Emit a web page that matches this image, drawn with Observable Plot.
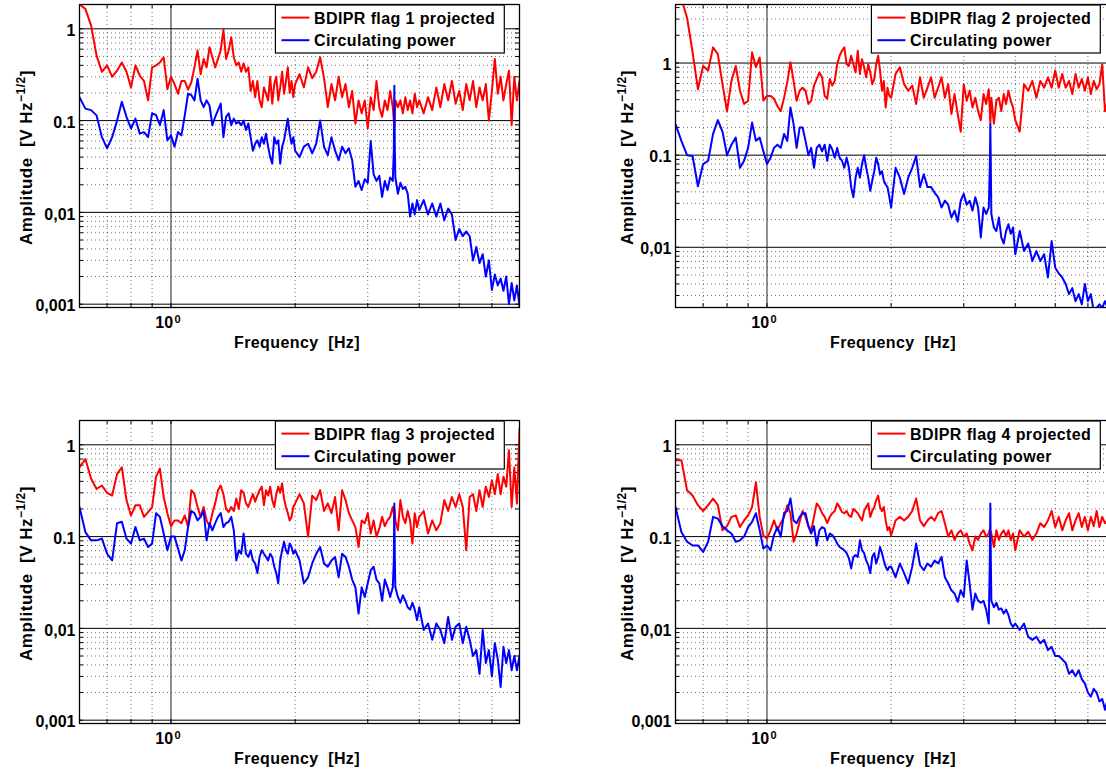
<!DOCTYPE html>
<html><head><meta charset="utf-8">
<script src="https://cdn.jsdelivr.net/npm/d3@7"></script>
<script src="https://cdn.jsdelivr.net/npm/@observablehq/plot@0.6"></script>
<style>
html,body{margin:0;padding:0;background:#fff;overflow:hidden;width:1106px;height:775px;}
#root{position:relative;width:1106px;height:775px;overflow:hidden;background:#fff;}
.panel{position:absolute;}
</style></head><body><div id="root"></div>
<script>
// Frequency bins [Hz]
const freq = [
0.60,0.62,0.64,0.66,0.68,0.70,0.72,0.74,0.76,0.78,
0.80,0.82,0.84,0.86,0.88,0.90,0.92,0.94,0.96,0.98,
1.00,1.02,1.04,1.06,1.08,1.10,1.12,1.14,1.16,1.18,
1.20,1.22,1.24,1.26,1.28,1.30,1.32,1.34,1.36,1.38,
1.40,1.42,1.44,1.46,1.48,1.50,1.52,1.54,1.56,1.58,
1.60,1.62,1.64,1.66,1.68,1.70,1.72,1.74,1.76,1.78,
1.80,1.82,1.84,1.86,1.88,1.90,1.92,1.94,1.96,1.98,
2.00,2.05,2.10,2.15,2.20,2.25,2.30,2.35,2.40,2.45,
2.50,2.55,2.60,2.65,2.70,2.75,2.80,2.85,2.90,2.95,
3.00,3.05,3.10,3.15,3.20,3.25,3.30,3.35,3.40,3.45,
3.47,3.48,3.49,3.50,3.55,3.60,3.65,3.70,3.75,3.80,
3.85,3.90,3.95,4.00,4.10,4.20,4.30,4.40,4.50,4.60,
4.70,4.80,4.90,5.00,5.10,5.20,5.30,5.40,5.50,5.60,
5.70,5.80,5.90,6.00,6.10,6.20,6.30,6.40,6.50,6.60,
6.70,6.80,6.90,7.00];

// Panel 1
const p1Red = [
1.84,1.65,1.09,0.51,0.34,0.40,0.30,0.35,0.43,0.34,
0.23,0.40,0.31,0.27,0.166,0.38,0.40,0.43,0.49,0.22,
0.30,0.25,0.196,0.27,0.27,0.217,0.26,0.38,0.58,0.32,
0.47,0.38,0.63,0.49,0.38,0.47,0.58,0.98,0.47,0.58,
0.81,0.49,0.40,0.43,0.34,0.42,0.34,0.38,0.21,0.27,
0.18,0.27,0.166,0.14,0.23,0.196,0.166,0.30,0.153,0.25,
0.30,0.166,0.23,0.34,0.196,0.27,0.38,0.20,0.27,0.18,
0.25,0.32,0.23,0.38,0.29,0.34,0.49,0.29,0.14,0.25,
0.166,0.30,0.18,0.25,0.14,0.21,0.093,0.166,0.12,0.166,
0.082,0.18,0.13,0.27,0.14,0.11,0.166,0.13,0.21,0.14,
0.10,0.085,0.12,0.166,0.14,0.166,0.12,0.18,0.13,0.166,
0.12,0.196,0.14,0.166,0.12,0.18,0.13,0.23,0.14,0.25,
0.166,0.27,0.153,0.21,0.13,0.25,0.166,0.27,0.14,0.23,
0.166,0.25,0.10,0.21,0.47,0.196,0.30,0.166,0.25,0.35,
0.089,0.30,0.166,0.27];
const p1Blue = [
0.18,0.135,0.13,0.114,0.066,0.050,0.066,0.10,0.16,0.11,
0.082,0.105,0.072,0.075,0.066,0.12,0.115,0.089,0.13,0.061,
0.069,0.052,0.075,0.069,0.114,0.196,0.19,0.166,0.286,0.166,
0.14,0.166,0.146,0.089,0.11,0.13,0.153,0.066,0.11,0.12,
0.089,0.105,0.093,0.097,0.089,0.10,0.079,0.093,0.066,0.047,
0.056,0.061,0.052,0.066,0.056,0.072,0.052,0.040,0.034,0.066,
0.056,0.061,0.034,0.052,0.061,0.080,0.105,0.072,0.056,0.066,
0.047,0.040,0.052,0.056,0.044,0.056,0.10,0.052,0.042,0.066,
0.047,0.037,0.052,0.044,0.050,0.037,0.019,0.022,0.0175,0.023,
0.021,0.060,0.026,0.022,0.025,0.0148,0.022,0.0175,0.024,0.022,
0.047,0.24,0.047,0.024,0.016,0.021,0.018,0.019,0.016,0.009,
0.0125,0.0095,0.0136,0.0106,0.0136,0.0095,0.0125,0.009,0.0125,0.0082,
0.011,0.0095,0.005,0.0066,0.0055,0.0062,0.0055,0.0030,0.0042,0.0028,
0.0035,0.002,0.003,0.00143,0.0021,0.0016,0.0019,0.0014,0.002,0.001,
0.0017,0.0011,0.0016,0.00095];

// Panel 2
const p2Red = [
6.0,5.0,3.1,1.31,0.52,0.93,0.83,1.48,1.25,0.59,
0.30,0.64,0.93,0.50,0.36,0.39,1.31,0.90,1.15,0.39,
0.44,0.44,0.41,0.34,0.30,0.42,0.62,1.02,0.64,0.39,
0.50,0.54,0.50,0.36,0.39,0.57,0.67,0.79,0.70,0.44,
0.41,0.67,0.57,0.64,0.97,1.2,1.36,1.48,0.97,0.93,
1.2,0.97,0.79,1.36,0.76,1.1,0.90,0.70,0.97,0.79,
0.59,0.67,0.97,1.2,0.83,0.50,0.64,0.33,0.54,0.44,
0.42,0.76,0.90,0.59,0.50,0.57,0.36,0.70,0.42,0.54,
0.70,0.42,0.54,0.70,0.42,0.59,0.28,0.46,0.28,0.18,
0.59,0.39,0.50,0.33,0.42,0.30,0.24,0.46,0.36,0.52,
0.30,0.22,0.30,0.42,0.22,0.39,0.42,0.30,0.46,0.36,
0.50,0.39,0.33,0.24,0.18,0.59,0.50,0.64,0.42,0.64,
0.54,0.70,0.54,0.83,0.54,0.76,0.54,0.64,0.46,0.76,
0.54,0.67,0.50,0.70,0.46,0.64,0.52,0.59,0.97,0.30,
0.39,0.50,0.45,0.50];
const p2Blue = [
0.217,0.143,0.10,0.098,0.046,0.08,0.087,0.17,0.24,0.18,
0.10,0.13,0.155,0.073,0.087,0.12,0.226,0.143,0.155,0.11,
0.08,0.094,0.12,0.13,0.12,0.17,0.143,0.33,0.217,0.12,
0.2,0.2,0.143,0.10,0.12,0.073,0.12,0.13,0.11,0.13,
0.087,0.13,0.115,0.094,0.12,0.094,0.087,0.073,0.094,0.073,
0.045,0.035,0.057,0.073,0.057,0.08,0.10,0.073,0.057,0.041,
0.053,0.067,0.094,0.08,0.062,0.067,0.053,0.048,0.045,0.035,
0.027,0.073,0.057,0.038,0.057,0.073,0.098,0.045,0.062,0.045,
0.045,0.039,0.035,0.027,0.032,0.029,0.021,0.025,0.019,0.032,
0.038,0.029,0.032,0.025,0.035,0.027,0.0128,0.027,0.023,0.027,
0.073,0.217,0.073,0.023,0.0164,0.015,0.021,0.0128,0.011,0.015,
0.0178,0.014,0.0164,0.0084,0.015,0.0091,0.011,0.0071,0.0091,0.0071,
0.0084,0.0047,0.0117,0.006,0.0052,0.0047,0.004,0.0031,0.0036,0.0026,
0.0031,0.0024,0.004,0.0026,0.0031,0.002,0.0022,0.0024,0.0022,0.0026,
0.0022,0.002,0.0021,0.0019];

// Panel 3
const p3Red = [
0.57,0.70,0.43,0.33,0.36,0.30,0.28,0.48,0.57,0.25,
0.17,0.22,0.22,0.164,0.185,0.21,0.45,0.55,0.27,0.18,
0.13,0.15,0.15,0.14,0.17,0.127,0.32,0.29,0.21,0.164,
0.21,0.15,0.13,0.18,0.23,0.32,0.36,0.29,0.20,0.185,
0.21,0.19,0.26,0.20,0.32,0.30,0.23,0.21,0.25,0.29,
0.24,0.28,0.32,0.35,0.22,0.32,0.28,0.35,0.25,0.21,
0.29,0.35,0.30,0.38,0.26,0.21,0.18,0.15,0.164,0.21,
0.23,0.29,0.23,0.10,0.28,0.25,0.32,0.19,0.23,0.18,
0.27,0.117,0.32,0.25,0.18,0.15,0.127,0.077,0.15,0.14,
0.18,0.108,0.15,0.10,0.122,0.164,0.13,0.15,0.164,0.21,
0.18,0.14,0.19,0.15,0.117,0.25,0.164,0.14,0.19,0.15,
0.084,0.18,0.127,0.164,0.19,0.108,0.15,0.117,0.14,0.25,
0.19,0.27,0.21,0.29,0.21,0.071,0.27,0.29,0.19,0.32,
0.21,0.35,0.27,0.41,0.29,0.48,0.29,0.45,0.35,0.87,
0.21,0.57,0.23,1.49];
const p3Blue = [
0.21,0.112,0.091,0.091,0.095,0.065,0.055,0.14,0.145,0.095,
0.084,0.127,0.091,0.095,0.077,0.084,0.18,0.164,0.108,0.071,
0.10,0.10,0.074,0.055,0.071,0.127,0.19,0.18,0.15,0.164,
0.19,0.091,0.14,0.117,0.14,0.164,0.18,0.127,0.14,0.145,
0.164,0.117,0.055,0.071,0.065,0.108,0.065,0.06,0.071,0.055,
0.051,0.04,0.06,0.071,0.065,0.06,0.055,0.065,0.06,0.047,
0.04,0.031,0.055,0.071,0.088,0.071,0.065,0.084,0.077,0.065,
0.071,0.055,0.031,0.036,0.051,0.065,0.077,0.051,0.047,0.055,
0.06,0.036,0.065,0.06,0.047,0.034,0.028,0.0145,0.028,0.022,
0.031,0.043,0.047,0.034,0.031,0.020,0.034,0.028,0.022,0.028,
0.055,0.23,0.055,0.028,0.022,0.019,0.023,0.020,0.017,0.016,
0.019,0.016,0.0123,0.017,0.0096,0.0113,0.0075,0.0113,0.0096,0.0069,
0.0133,0.0075,0.0104,0.0113,0.0069,0.0104,0.0075,0.005,0.0058,0.0032,
0.0096,0.0042,0.0058,0.003,0.0069,0.0046,0.0023,0.0063,0.0042,0.0058,
0.0035,0.005,0.0035,0.005];

// Panel 4
const p4Red = [
0.68,0.68,0.32,0.28,0.22,0.19,0.22,0.26,0.22,0.117,
0.13,0.164,0.17,0.127,0.15,0.17,0.21,0.39,0.164,0.103,
0.095,0.117,0.15,0.117,0.14,0.164,0.22,0.18,0.088,0.108,
0.145,0.19,0.164,0.13,0.117,0.164,0.23,0.21,0.18,0.164,
0.14,0.164,0.18,0.19,0.23,0.21,0.185,0.18,0.19,0.17,
0.164,0.2,0.19,0.18,0.164,0.15,0.19,0.21,0.23,0.164,
0.19,0.21,0.25,0.28,0.21,0.19,0.21,0.15,0.117,0.127,
0.103,0.15,0.164,0.15,0.164,0.19,0.26,0.15,0.13,0.15,
0.164,0.15,0.18,0.19,0.14,0.10,0.117,0.092,0.108,0.117,
0.10,0.108,0.084,0.071,0.10,0.092,0.108,0.117,0.10,0.108,
0.12,0.10,0.113,0.108,0.077,0.117,0.092,0.108,0.117,0.10,
0.117,0.092,0.108,0.071,0.117,0.10,0.113,0.092,0.108,0.14,
0.127,0.15,0.19,0.127,0.164,0.117,0.15,0.18,0.117,0.15,
0.18,0.127,0.164,0.117,0.164,0.13,0.19,0.127,0.164,0.14,
0.15,0.13,0.16,0.14];
const p4Blue = [
0.21,0.112,0.088,0.08,0.08,0.068,0.088,0.164,0.157,0.13,
0.117,0.108,0.088,0.091,0.10,0.127,0.145,0.18,0.117,0.074,
0.08,0.071,0.104,0.127,0.10,0.18,0.19,0.26,0.15,0.14,
0.164,0.18,0.18,0.13,0.108,0.13,0.08,0.117,0.127,0.122,
0.091,0.108,0.104,0.095,0.084,0.077,0.074,0.071,0.066,0.058,
0.045,0.06,0.063,0.06,0.091,0.071,0.066,0.055,0.049,0.04,
0.06,0.066,0.051,0.06,0.077,0.066,0.055,0.047,0.043,0.047,
0.047,0.036,0.051,0.04,0.031,0.047,0.084,0.049,0.043,0.051,
0.047,0.055,0.051,0.06,0.036,0.031,0.026,0.024,0.0195,0.026,
0.022,0.055,0.031,0.016,0.024,0.02,0.019,0.02,0.016,0.0113,
0.055,0.23,0.055,0.02,0.017,0.019,0.016,0.0165,0.0145,0.016,
0.014,0.0113,0.0104,0.0113,0.0096,0.0113,0.0081,0.0075,0.0081,0.0069,
0.0075,0.0058,0.0063,0.005,0.005,0.0046,0.0042,0.0032,0.0035,0.003,
0.0035,0.0028,0.0025,0.002,0.0018,0.0022,0.002,0.0016,0.0017,0.0013,
0.0017,0.0014,0.0015,0.0012];

// Axis ticks
const yTickValues = [1, 0.1, 0.01, 0.001];
const yTickLabels = ["1", "0.1", "0,01", "0,001"];
const yMinor = [0.002,0.003,0.004,0.005,0.006,0.007,0.008,0.009,
                0.02,0.03,0.04,0.05,0.06,0.07,0.08,0.09,
                0.2,0.3,0.4,0.5,0.6,0.7,0.8,0.9,2,3,4];
const xMajor = [1];
const xMinor = [0.7,0.8,0.9,2,3,4,5,6];
const seriesNames = ["BDIPR flag {n} projected", "Circulating power"];
const seriesColors = ["#ff0000", "#0000ff"];

const panels = [
  {left: 0,   top: 0,   red: p1Red, blue: p1Blue, flag: "1", yDomain: [0.00092, 1.84], ylabX: 31.5},
  {left: 596, top: 0,   red: p2Red, blue: p2Blue, flag: "2", yDomain: [0.00222, 4.32], ylabX: 36.5},
  {left: 0,   top: 416, red: p3Red, blue: p3Blue, flag: "3", yDomain: [0.00092, 1.84], ylabX: 31.5},
  {left: 596, top: 416, red: p4Red, blue: p4Blue, flag: "4", yDomain: [0.00092, 1.84], ylabX: 36.5}
];

const FONT = "'Liberation Sans', Arial, Helvetica, sans-serif";
const ML = 79, MT = 4, PW = 440, PH = 303, MR = 10, MB = 50;
const root = document.getElementById("root");

panels.forEach(p => {
  const data = freq.map((f, i) => ({f, red: p.red[i], blue: p.blue[i]}));
  const inY = v => v >= p.yDomain[0] && v <= p.yDomain[1];
  const yMajIn = yTickValues.filter(inY);
  const yMinIn = yMinor.filter(inY);
  const yAll = yMajIn.concat(yMinIn);
  const xAll = xMajor.concat(xMinor);
  const dotted = {stroke: "#000", strokeOpacity: 0.55, strokeWidth: 1, strokeDasharray: "1,3"};

  const plot = Plot.plot({
    width: ML + PW + MR, height: MT + PH + MB,
    marginLeft: ML, marginTop: MT, marginRight: MR, marginBottom: MB,
    x: {type: "log", domain: [0.6, 7], axis: null},
    y: {type: "log", domain: p.yDomain, axis: null},
    style: {fontFamily: FONT, fontSize: "16px", fontWeight: "bold", background: "transparent", color: "#000", overflow: "visible"},
    marks: [
      Plot.ruleY(yMinIn, {y: d => d, ...dotted}),
      Plot.ruleX(xMinor, {x: d => d, ...dotted}),
      Plot.ruleY(yMajIn, {y: d => d, stroke: "#000", strokeWidth: 1}),
      Plot.ruleX(xMajor, {x: d => d, stroke: "#222", strokeWidth: 1}),
      Plot.tickY(yAll, {y: d => d, insetRight: PW - 4, stroke: "#000"}),
      Plot.tickY(yAll, {y: d => d, insetLeft: PW - 4, stroke: "#000"}),
      Plot.tickX(xAll, {x: d => d, insetTop: PH - 4, stroke: "#000"}),
      Plot.tickX(xAll, {x: d => d, insetBottom: PH - 4, stroke: "#000"}),
      Plot.line(data, {x: "f", y: "red", stroke: seriesColors[0], strokeWidth: 2, clip: true}),
      Plot.line(data, {x: "f", y: "blue", stroke: seriesColors[1], strokeWidth: 2, clip: true}),
      Plot.frame({stroke: "#000", strokeWidth: 1.3}),
      Plot.text(yMajIn, {y: d => d, text: d => yTickLabels[yTickValues.indexOf(d)], frameAnchor: "left",
        textAnchor: "end", dx: -4, dy: 2, fontSize: 16, fontWeight: "bold", fill: "#000"})
    ]
  });

  const div = document.createElement("div");
  div.className = "panel";
  div.style.left = p.left + "px";
  div.style.top = p.top + "px";
  div.style.width = (ML + PW + MR) + "px";
  div.style.height = (MT + PH + MB) + "px";
  div.appendChild(plot);
  root.appendChild(div);

  const svg = d3.select(plot);
  const x1 = plot.scale("x").apply(1);
  const bottom = MT + PH;

  // x tick label 10^0
  svg.append("text").attr("x", x1 + 2.6).attr("y", bottom + 20.6)
    .attr("text-anchor", "end").style("font-size", "16px").style("font-weight", "bold").text("10");
  svg.append("text").attr("x", x1 + 4).attr("y", bottom + 15.8)
    .attr("text-anchor", "start").style("font-size", "11px").style("font-weight", "bold").text("0");

  // x label
  svg.append("text").attr("x", ML + PW / 2 - 2).attr("y", bottom + 40.6)
    .attr("text-anchor", "middle").style("font-size", "16px").style("font-weight", "bold")
    .style("letter-spacing", "0.4px").style("white-space", "pre").text("Frequency  [Hz]");

  // y label
  const yl = svg.append("text")
    .attr("transform", `translate(${p.ylabX},${MT + PH / 2 + 2}) rotate(-90)`)
    .attr("text-anchor", "middle").style("font-size", "17px").style("font-weight", "bold")
    .style("letter-spacing", "0.5px").style("white-space", "pre");
  yl.append("tspan").text("Amplitude  [V Hz");
  yl.append("tspan").attr("dy", -7).style("font-size", "12px").text("\u22121/2");
  yl.append("tspan").attr("dy", 7).text("]");

  // legend
  const lg = svg.append("g").attr("text-anchor", "start");
  const rect = lg.append("rect").attr("fill", "#fff").attr("stroke", "#000").attr("stroke-width", 1.2);
  const names = [seriesNames[0].replace("{n}", p.flag), seriesNames[1]];
  const texts = names.map(n => lg.append("text").attr("text-anchor", "start")
    .style("font-size", "16px").style("font-weight", "bold").style("letter-spacing", "0.4px").text(n));
  const tw = Math.max(...texts.map(t => t.node().getComputedTextLength()));
  const boxW = 38.6 + tw + 9;
  const lx = ML + PW - 14.7 - boxW;
  const ly = MT + 1;
  rect.attr("x", lx).attr("y", ly).attr("width", boxW).attr("height", 48);
  texts.forEach((t, i) => t.attr("x", lx + 38.6).attr("y", ly + [18.5, 40.8][i]));
  [12.6, 35.2].forEach((dy, i) => lg.append("line").attr("x1", lx + 6).attr("x2", lx + 34)
    .attr("y1", ly + dy).attr("y2", ly + dy).attr("stroke", seriesColors[i]).attr("stroke-width", 2));
});
</script>
</body></html>
